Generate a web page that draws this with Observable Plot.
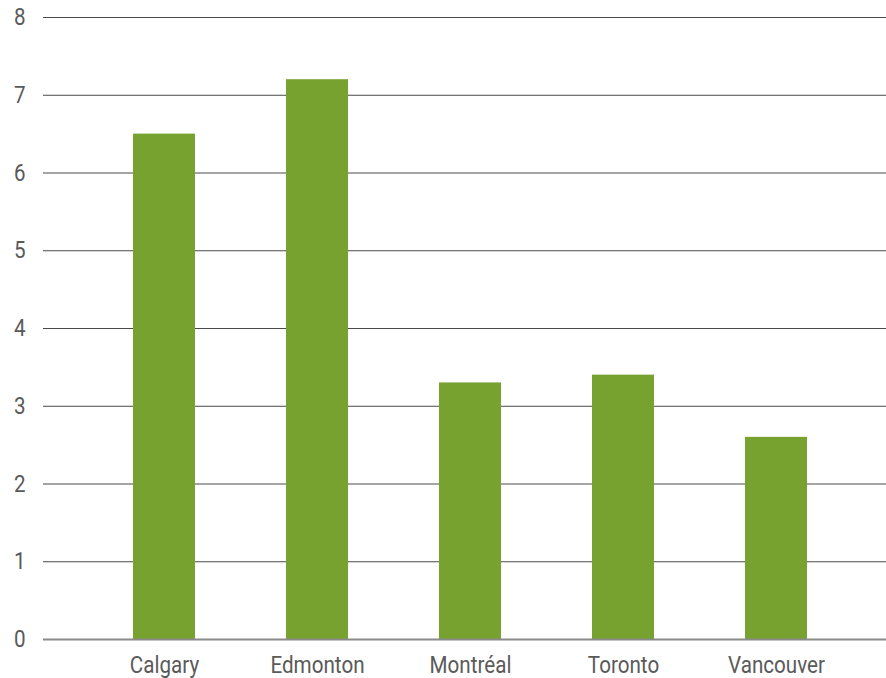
<!DOCTYPE html>
<html>
<head>
<meta charset="utf-8">
<script src="https://cdn.jsdelivr.net/npm/d3@7"></script>
<script src="https://cdn.jsdelivr.net/npm/@observablehq/plot@0.6"></script>
<style>
  html, body { margin: 0; padding: 0; background: #fff; }
</style>
</head>
<body>
<div id="chart"></div>
<script>
// Cities and their values
const cities = ["Calgary", "Edmonton", "Montréal", "Toronto", "Vancouver"];
const values = [6.5, 7.2, 3.3, 3.4, 2.6];
const yTicks = [0, 1, 2, 3, 4, 5, 6, 7, 8];

const data = cities.map((city, i) => ({city, value: values[i]}));

const chart = Plot.plot({
  width: 886,
  height: 678,
  marginTop: 17,
  marginBottom: 39,
  marginLeft: 43,
  marginRight: 0,
  style: {fontFamily: "Roboto", fontSize: "24px", color: "#5a5a5a", background: "#fff"},
  x: {domain: cities, range: [55.25, 884.75], paddingInner: 0.596, paddingOuter: 0.5, label: null},
  y: {domain: [0, 8], label: null},
  marks: [
    Plot.ruleY(yTicks.filter(d => d > 0), {stroke: "#4a4a4a", strokeWidth: 1}),
    Plot.barY(data, {x: "city", y: "value", fill: "#78a22f"}),
    Plot.ruleY([0], {stroke: "#8a8a8a", strokeWidth: 2}),
    Plot.axisY({ticks: yTicks, tickSize: 0, tickPadding: 17, tickFormat: d => String(d), label: null}),
    Plot.axisX({tickSize: 0, tickPadding: 16, label: null})
  ]
});

document.getElementById("chart").appendChild(chart);

// Narrow the label glyphs horizontally, each around its own centre
d3.select(chart).selectAll("text").each(function() {
  const b = this.getBBox();
  const cx = b.x + b.width / 2;
  const t = this.getAttribute("transform") || "";
  this.setAttribute("transform", `${t} translate(${cx},0) scale(0.86,1) translate(${-cx},0)`);
});
</script>
</body>
</html>
